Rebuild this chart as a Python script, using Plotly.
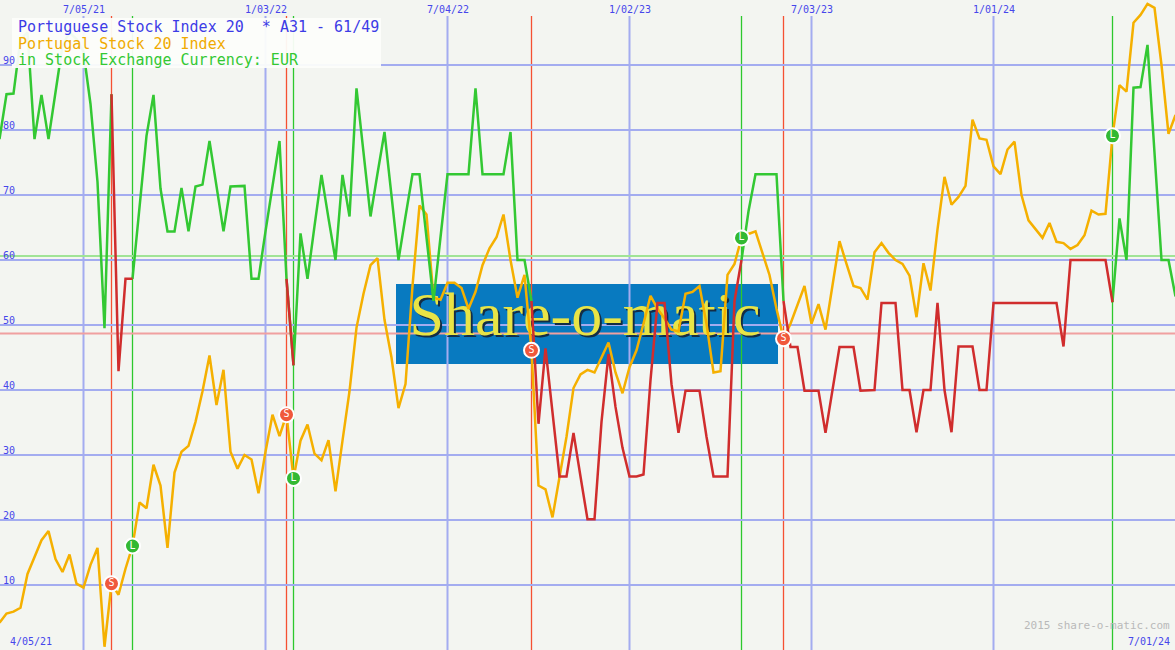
import pandas as pd
import plotly.graph_objects as go

# ---------------- data (weekly points) ----------------
start_date = "2021-04-12"

oscillator = [
    78.6, 85.5, 85.6, 94.0, 95.0, 78.6, 85.4, 78.6, 85.8, 93.0,
    95.0, 94.0, 92.0, 84.0, 72.0, 49.5, 85.5, 42.9, 57.1, 57.1,
    68.1, 79.1, 85.4, 71.0, 64.4, 64.4, 71.1, 64.4, 71.3, 71.6,
    78.3, 71.3, 64.4, 71.3, 71.4, 71.4, 57.1, 57.1, 64.4, 71.3,
    78.3, 57.1, 43.8, 64.1, 57.1, 65.2, 73.1, 66.4, 60.0, 73.1,
    66.7, 86.4, 76.2, 66.7, 73.3, 79.7, 69.9, 60.0, 66.7, 73.2,
    73.2, 63.5, 53.7, 63.5, 73.2, 73.2, 73.2, 73.2, 86.4, 73.2,
    73.2, 73.2, 73.2, 79.7, 60.0, 60.0, 53.7, 34.8, 46.4, 36.6,
    26.7, 26.7, 33.4, 26.7, 20.1, 20.1, 35.1, 45.5, 37.4, 31.1,
    26.7, 26.7, 27.0, 41.5, 53.4, 53.4, 40.9, 33.4, 39.9, 39.9,
    39.9, 32.8, 26.7, 26.7, 26.7, 53.7, 60.0, 67.5, 73.2, 73.2,
    73.2, 73.2, 53.7, 46.6, 46.6, 39.9, 39.9, 39.9, 33.4, 40.3,
    46.6, 46.6, 46.6, 39.9, 39.9, 40.0, 53.4, 53.4, 53.4, 40.0,
    40.0, 33.5, 40.0, 40.0, 53.4, 40.0, 33.5, 46.7, 46.7, 46.7,
    40.0, 40.0, 53.4, 53.4, 53.4, 53.4, 53.4, 53.4, 53.4, 53.4,
    53.4, 53.4, 46.7, 60.0, 60.0, 60.0, 60.0, 60.0, 60.0, 53.5,
    66.4, 60.0, 86.5, 86.6, 93.1, 76.5, 60.0, 60.0, 54.4,
]

price = [
    4.2, 5.6, 5.9, 6.5, 11.7, 14.3, 16.9, 18.3, 14.0, 12.0,
    14.7, 10.2, 9.6, 13.1, 15.7, 0.5, 10.2, 8.5, 12.5, 16.0,
    22.7, 21.8, 28.5, 25.3, 15.7, 27.3, 30.5, 31.4, 35.1, 39.8,
    45.3, 37.7, 43.1, 30.5, 27.9, 30.0, 29.3, 24.1, 30.5, 36.2,
    32.9, 36.2, 26.4, 32.2, 34.7, 30.2, 29.2, 32.3, 24.4, 32.2,
    39.8, 49.6, 54.8, 59.2, 60.3, 50.8, 45.0, 37.2, 40.9, 56.0,
    68.4, 67.0, 54.2, 53.9, 56.5, 56.5, 55.7, 52.5, 55.1, 59.2,
    61.8, 63.5, 67.0, 60.0, 54.2, 57.7, 46.1, 25.3, 24.7, 20.4,
    26.4, 32.8, 40.3, 42.4, 43.1, 42.7, 45.0, 47.3, 42.7, 39.5,
    43.5, 46.1, 50.2, 54.5, 52.5, 51.0, 49.3, 49.0, 54.8, 55.1,
    56.0, 50.2, 42.7, 42.9, 57.7, 59.4, 63.4, 64.0, 64.4, 61.2,
    57.7, 52.5, 47.9, 50.2, 53.1, 56.0, 50.2, 53.2, 49.3, 56.0,
    62.9, 59.4, 56.0, 55.7, 53.9, 61.2, 62.6, 61.1, 60.0, 59.4,
    57.6, 51.2, 59.5, 55.3, 64.7, 72.8, 68.5, 69.7, 71.4, 81.6,
    78.7, 78.5, 74.4, 73.2, 77.0, 78.2, 70.0, 66.1, 64.7, 63.4,
    65.7, 62.8, 62.6, 61.7, 62.3, 63.8, 67.6, 67.0, 67.1, 79.1,
    86.9, 85.9, 96.5, 97.7, 99.4, 98.8, 90.0, 79.4, 82.3,
]

sell_index = [16, 41, 76, 112]
buy_index = [19, 42, 106, 159]

upper_level = 60.6
lower_level = 48.7

grid_dates = ["2021-07-05", "2022-01-03", "2022-07-04", "2023-01-02", "2023-07-03", "2024-01-01"]
grid_labels = ["7/05/21", "1/03/22", "7/04/22", "1/02/23", "7/03/23", "1/01/24"]
y_grid = [10, 20, 30, 40, 50, 60, 70, 80, 90]

title_lines = ["Portuguese Stock Index 20  * A31 - 61/49",
               "Portugal Stock 20 Index",
               "in Stock Exchange Currency: EUR"]
first_label = "4/05/21"
last_label = "7/01/24"
credit = "2015 share-o-matic.com"
logo_text = "Share-o-matic"

# ---------------- derived ----------------
dates = pd.date_range(start_date, periods=len(price), freq="7D")
x_start = pd.Timestamp(start_date) + pd.Timedelta(hours=12)
x_end = x_start + pd.Timedelta(days=1175)

events = sorted([(i, "S") for i in sell_index] + [(i, "L") for i in buy_index])
seg_red = []
for i in range(len(price) - 1):
    st = "L"
    for idx, kind in events:
        if idx <= i:
            st = kind
    seg_red.append(st == "S")

green_y, red_y = [], []
for i in range(len(oscillator)):
    left = seg_red[i - 1] if i > 0 else None
    right = seg_red[i] if i < len(seg_red) else None
    in_red = (left is True) or (right is True)
    in_green = (left is False) or (right is False)
    green_y.append(oscillator[i] if in_green else None)
    red_y.append(oscillator[i] if in_red else None)

BG = "rgb(243,245,241)"
GRID = "rgb(163,172,240)"
YELLOW = "rgb(245,176,0)"
GREEN = "rgb(51,200,51)"
RED = "rgb(208,45,45)"
LABEL = "rgb(70,70,235)"
MONO = "DejaVu Sans Mono"

fig = go.Figure()

# logo text (shadow + face)
logo_x = x_start + pd.Timedelta(days=585)
fig.add_trace(go.Scatter(x=[logo_x + pd.Timedelta(days=2)], y=[50.5], mode="text", text=[logo_text],
                         textfont=dict(family="Liberation Serif", size=62, color="rgb(20,45,70)"),
                         hoverinfo="skip", showlegend=False))
fig.add_trace(go.Scatter(x=[logo_x], y=[50.9], mode="text", text=[logo_text],
                         textfont=dict(family="Liberation Serif", size=62, color="rgb(232,228,70)"),
                         hoverinfo="skip", showlegend=False))

fig.add_trace(go.Scatter(x=dates, y=price, mode="lines", line=dict(color=YELLOW, width=2.5),
                         hoverinfo="skip", showlegend=False))
fig.add_trace(go.Scatter(x=dates, y=green_y, mode="lines", line=dict(color=GREEN, width=2.5),
                         connectgaps=False, hoverinfo="skip", showlegend=False))
fig.add_trace(go.Scatter(x=dates, y=red_y, mode="lines", line=dict(color=RED, width=2.5),
                         connectgaps=False, hoverinfo="skip", showlegend=False))

# signal markers
fig.add_trace(go.Scatter(x=[dates[i] for i in sell_index], y=[price[i] for i in sell_index],
                         mode="markers+text", text=["S"] * len(sell_index), textposition="middle center",
                         textfont=dict(family=MONO, size=10, color="white"),
                         marker=dict(size=15, color="rgb(240,88,60)", line=dict(color="white", width=2)),
                         hoverinfo="skip", showlegend=False))
fig.add_trace(go.Scatter(x=[dates[i] for i in buy_index], y=[price[i] for i in buy_index],
                         mode="markers+text", text=["L"] * len(buy_index), textposition="middle center",
                         textfont=dict(family=MONO, size=10, color="white"),
                         marker=dict(size=15, color="rgb(50,185,50)", line=dict(color="white", width=2)),
                         hoverinfo="skip", showlegend=False))

shapes = []
# logo box
shapes.append(dict(type="rect", xref="paper", yref="paper", x0=396 / 1175, x1=778 / 1175,
                   y0=1 - 364 / 650, y1=1 - 284 / 650, fillcolor="rgb(8,122,192)",
                   line=dict(width=0), layer="below"))
grid_top = 1 - 16 / 650
for d in grid_dates:
    shapes.append(dict(type="line", xref="x", yref="paper", x0=d, x1=d, y0=0, y1=grid_top,
                       line=dict(color=GRID, width=2), layer="below"))
for i in sell_index:
    shapes.append(dict(type="line", xref="x", yref="paper", x0=dates[i], x1=dates[i], y0=0, y1=grid_top,
                       line=dict(color="rgb(245,80,50)", width=1.3), layer="between"))
for i in buy_index:
    shapes.append(dict(type="line", xref="x", yref="paper", x0=dates[i], x1=dates[i], y0=0, y1=grid_top,
                       line=dict(color="rgb(45,200,45)", width=1.3), layer="between"))
shapes.append(dict(type="line", xref="paper", yref="y", x0=0, x1=1, y0=upper_level, y1=upper_level,
                   line=dict(color="rgb(160,228,150)", width=2), layer="between"))
shapes.append(dict(type="line", xref="paper", yref="y", x0=0, x1=1, y0=lower_level, y1=lower_level,
                   line=dict(color="rgb(240,160,160)", width=2), layer="between"))
# title box
shapes.append(dict(type="rect", xref="paper", yref="paper", x0=12 / 1175, x1=381 / 1175,
                   y0=1 - 68 / 650, y1=1 - 18 / 650, fillcolor="rgba(252,253,250,0.95)",
                   line=dict(width=0), layer="above"))

annotations = []
for d, lab in zip(grid_dates, grid_labels):
    annotations.append(dict(x=d, y=1 - 10 / 650, xref="x", yref="paper", text=lab, showarrow=False,
                            xanchor="center", yanchor="middle",
                            font=dict(family=MONO, size=10, color=LABEL)))
for v in y_grid:
    annotations.append(dict(x=0, y=v, xref="paper", yref="y", text=str(v), showarrow=False,
                            xanchor="left", yanchor="bottom", xshift=1, yshift=-3,
                            font=dict(family=MONO, size=10, color=LABEL)))
title_colors = ["rgb(60,60,230)", "rgb(240,170,0)", "rgb(51,200,51)"]
title_y = [27, 44, 60]
for txt, col, yy in zip(title_lines, title_colors, title_y):
    annotations.append(dict(x=16 / 1175, y=1 - yy / 650, xref="paper", yref="paper", text=txt,
                            showarrow=False, xanchor="left", yanchor="middle",
                            font=dict(family=MONO, size=15, color=col)))
annotations.append(dict(x=8 / 1175, y=1 - 641 / 650, xref="paper", yref="paper", text=first_label,
                        showarrow=False, xanchor="left", yanchor="middle",
                        font=dict(family=MONO, size=10, color=LABEL)))
annotations.append(dict(x=1172 / 1175, y=1 - 641 / 650, xref="paper", yref="paper", text=last_label,
                        showarrow=False, xanchor="right", yanchor="middle",
                        font=dict(family=MONO, size=10, color=LABEL)))
annotations.append(dict(x=1172 / 1175, y=1 - 625 / 650, xref="paper", yref="paper", text=credit,
                        showarrow=False, xanchor="right", yanchor="middle",
                        font=dict(family=MONO, size=11, color="rgb(185,185,185)")))

fig.update_layout(
    width=1175, height=650,
    margin=dict(l=0, r=0, t=0, b=0),
    paper_bgcolor=BG, plot_bgcolor=BG,
    showlegend=False, hovermode=False,
    shapes=shapes, annotations=annotations,
    xaxis=dict(range=[x_start, x_end], showgrid=False, zeroline=False, showticklabels=False,
               ticks="", showline=False),
    yaxis=dict(range=[0, 100], tickvals=y_grid, showgrid=True, gridcolor=GRID, gridwidth=2,
               zeroline=False, showticklabels=False, ticks="", showline=False),
)

fig.write_html("out.html", config={"displayModeBar": False},
               post_script="document.body.style.margin='0';document.body.style.padding='0';"
                           "document.body.style.overflow='hidden';")
